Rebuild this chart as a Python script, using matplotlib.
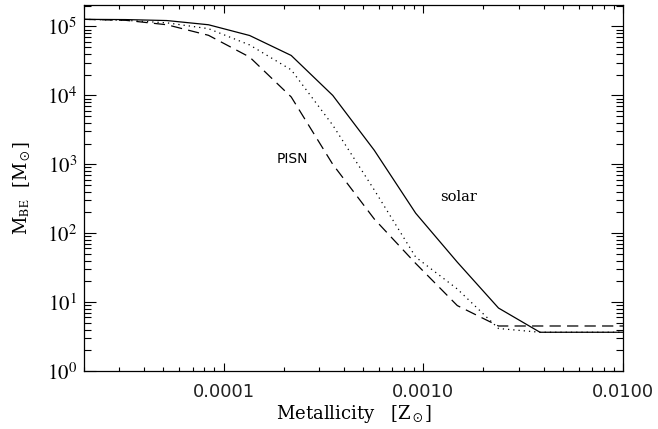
import matplotlib
matplotlib.use("Agg")
import matplotlib.pyplot as plt
from matplotlib.ticker import LogLocator, NullFormatter, FixedLocator, FixedFormatter

# metallicity grid (Z_sun)
Z = [2.0e-5, 3.23e-5, 5.2e-5, 8.4e-5, 1.35e-4, 2.18e-4, 3.52e-4,
     5.68e-4, 9.16e-4, 1.48e-3, 2.38e-3, 3.84e-3, 6.2e-3, 1.0e-2]

# Bonnor-Ebert mass (M_sun)
m_solar = [1.27e5, 1.26e5, 1.22e5, 1.06e5, 7.4e4, 3.8e4, 1.0e4,
           1.6e3, 195, 38, 8.2, 3.65, 3.65, 3.65]
m_mid = [1.27e5, 1.23e5, 1.13e5, 9.3e4, 5.4e4, 2.35e4, 3.7e3,
         425, 45, 15.5, 4.14, 3.65, 3.65, 3.65]
m_pisn = [1.27e5, 1.23e5, 1.06e5, 7.45e4, 3.6e4, 9.5e3, 1.0e3,
          161, 36.4, 8.9, 4.5, 4.5, 4.5, 4.5]

XTICKS = [1e-4, 1e-3, 1e-2]
XTICK_LABELS = ["0.0001", "0.0010", "0.0100"]
YTICKS = [1, 10, 100, 1e3, 1e4, 1e5]
YTICK_LABELS = [r"$10^{%d}$" % i for i in range(6)]

plt.rcParams["mathtext.fontset"] = "stix"
plt.rcParams["font.family"] = "DejaVu Serif"

fig = plt.figure(figsize=(6.58, 4.29), dpi=100)
ax = fig.add_axes([0.1277, 0.1352, 0.8191, 0.8531])

lw = 0.9
ax.plot(Z, m_solar, color="black", lw=lw, linestyle="-")
ax.plot(Z, m_mid, color="black", lw=lw, linestyle=(0, (1, 3.2)))
ax.plot(Z, m_pisn, color="black", lw=lw, linestyle=(0, (9, 5)))

ax.set_xscale("log")
ax.set_yscale("log")
ax.set_xlim(2e-5, 1e-2)
ax.set_ylim(1, 2.05e5)

ax.xaxis.set_major_locator(FixedLocator(XTICKS))
ax.xaxis.set_major_formatter(FixedFormatter(XTICK_LABELS))
ax.xaxis.set_minor_locator(LogLocator(base=10, subs=range(2, 10), numticks=20))
ax.xaxis.set_minor_formatter(NullFormatter())
ax.yaxis.set_major_locator(FixedLocator(YTICKS))
ax.yaxis.set_major_formatter(FixedFormatter(YTICK_LABELS))
ax.yaxis.set_minor_locator(LogLocator(base=10, subs=range(2, 10), numticks=20))
ax.yaxis.set_minor_formatter(NullFormatter())

ax.tick_params(axis="x", which="major", direction="in", length=5.5, width=0.8,
               top=True, pad=9)
ax.tick_params(axis="x", which="minor", direction="in", length=3, width=0.8, top=True)
ax.tick_params(axis="y", which="major", direction="in", length=8.5, width=0.8,
               right=True, pad=5, labelsize=15)
ax.tick_params(axis="y", which="minor", direction="in", length=5, width=0.8, right=True)
for lab in ax.get_xticklabels():
    lab.set_family("DejaVu Sans")
    lab.set_fontsize(13)
    lab.set_color("#222222")
for sp in ax.spines.values():
    sp.set_linewidth(0.9)

ax.set_xlabel(r"Metallicity   [Z$_\odot$]", fontsize=13, labelpad=1)
ax.set_ylabel(r"M$_{\rm BE}$  [M$_\odot$]", fontsize=13, labelpad=11)

ax.text(2.21e-4, 1.18e3, "PISN", fontsize=10, ha="center", va="center",
        family="DejaVu Sans")
ax.text(1.51e-3, 3.4e2, "solar", fontsize=10.5, ha="center", va="center")

fig.savefig("out.png", dpi=100)
